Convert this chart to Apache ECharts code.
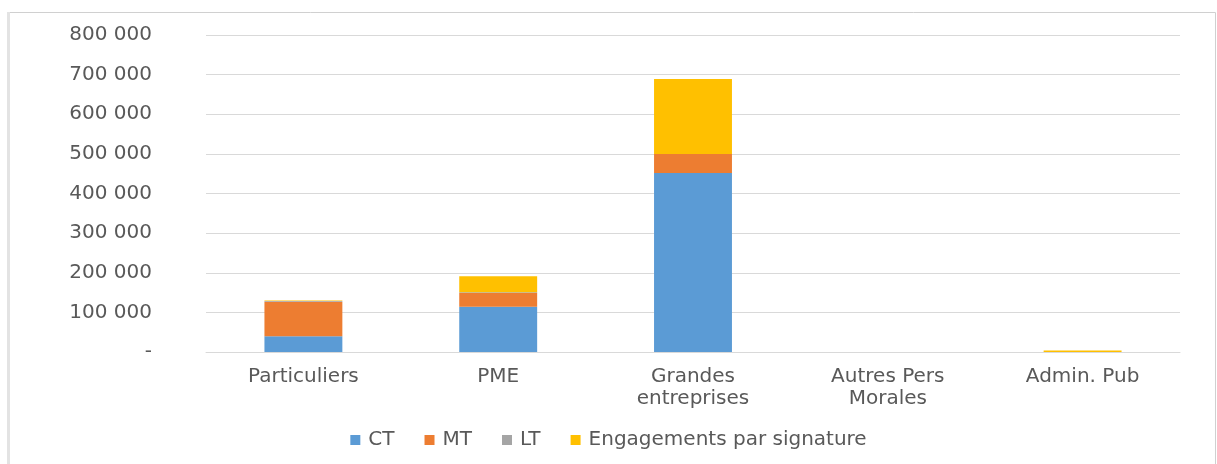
<!DOCTYPE html>
<html>
<head>
<meta charset="utf-8">
<script src="https://cdn.jsdelivr.net/npm/echarts@6/dist/echarts.min.js"></script>
<style>
html,body{margin:0;padding:0;background:#fff;}
#chart{width:1217px;height:464px;}
</style>
</head>
<body>
<div id="chart"></div>
<script>
const categories = ['Particuliers', 'PME', 'Grandes\nentreprises', 'Autres Pers\nMorales', 'Admin. Pub'];
const seriesNames = ['CT', 'MT', 'LT', 'Engagements par signature'];
const ctValues = [40000, 114000, 452000, 0, 0];
const mtValues = [87000, 35000, 48000, 0, 0];
const ltValues = [2000, 2000, 0, 0, 0];
const esValues = [1000, 40000, 189000, 0, 4000];
const colors = ['#5B9BD5', '#ED7D31', '#A5A5A5', '#FFC000'];

const font = 'DejaVu Sans';
const chart = echarts.init(document.getElementById('chart'));
const mk = (name, data, color) => ({
  name: name, type: 'bar', stack: 'total', data: data, barWidth: '40%',
  itemStyle: { color: color }
});
chart.setOption({
  animation: false,
  color: colors,
  graphic: [{
    type: 'rect', shape: { x: 8.5, y: 12.5, width: 1207, height: 460 },
    style: { fill: 'none', stroke: '#d0d0d0', lineWidth: 1 }, silent: true
  }, {
    type: 'rect', shape: { x: 7, y: 12, width: 3, height: 452 },
    style: { fill: '#e3e3e3' }, silent: true
  }],
  grid: { left: 206, right: 37, top: 35, bottom: 112 },
  legend: {
    bottom: 9, left: 'center', itemWidth: 10, itemHeight: 10, itemGap: 30,
    icon: 'rect',
    textStyle: { fontFamily: font, fontSize: 20, color: '#595959', padding: [0, 0, 0, 3] },
    data: seriesNames
  },
  xAxis: {
    type: 'category', data: categories,
    axisTick: { show: false },
    axisLine: { lineStyle: { color: '#d9d9d9' } },
    axisLabel: { fontFamily: font, fontSize: 20, color: '#595959', margin: 14, lineHeight: 22, interval: 0 }
  },
  yAxis: {
    type: 'value', min: 0, max: 800000, interval: 100000,
    axisLine: { show: false }, axisTick: { show: false },
    splitLine: { lineStyle: { color: '#d9d9d9' } },
    axisLabel: {
      fontFamily: font, fontSize: 20, color: '#595959', margin: 54,
      formatter: v => v === 0 ? '-' : String(v).replace(/\B(?=(\d{3})+(?!\d))/g, ' ')
    }
  },
  series: [
    mk(seriesNames[0], ctValues, colors[0]),
    mk(seriesNames[1], mtValues, colors[1]),
    mk(seriesNames[2], ltValues, colors[2]),
    mk(seriesNames[3], esValues, colors[3])
  ]
});
</script>
</body>
</html>
